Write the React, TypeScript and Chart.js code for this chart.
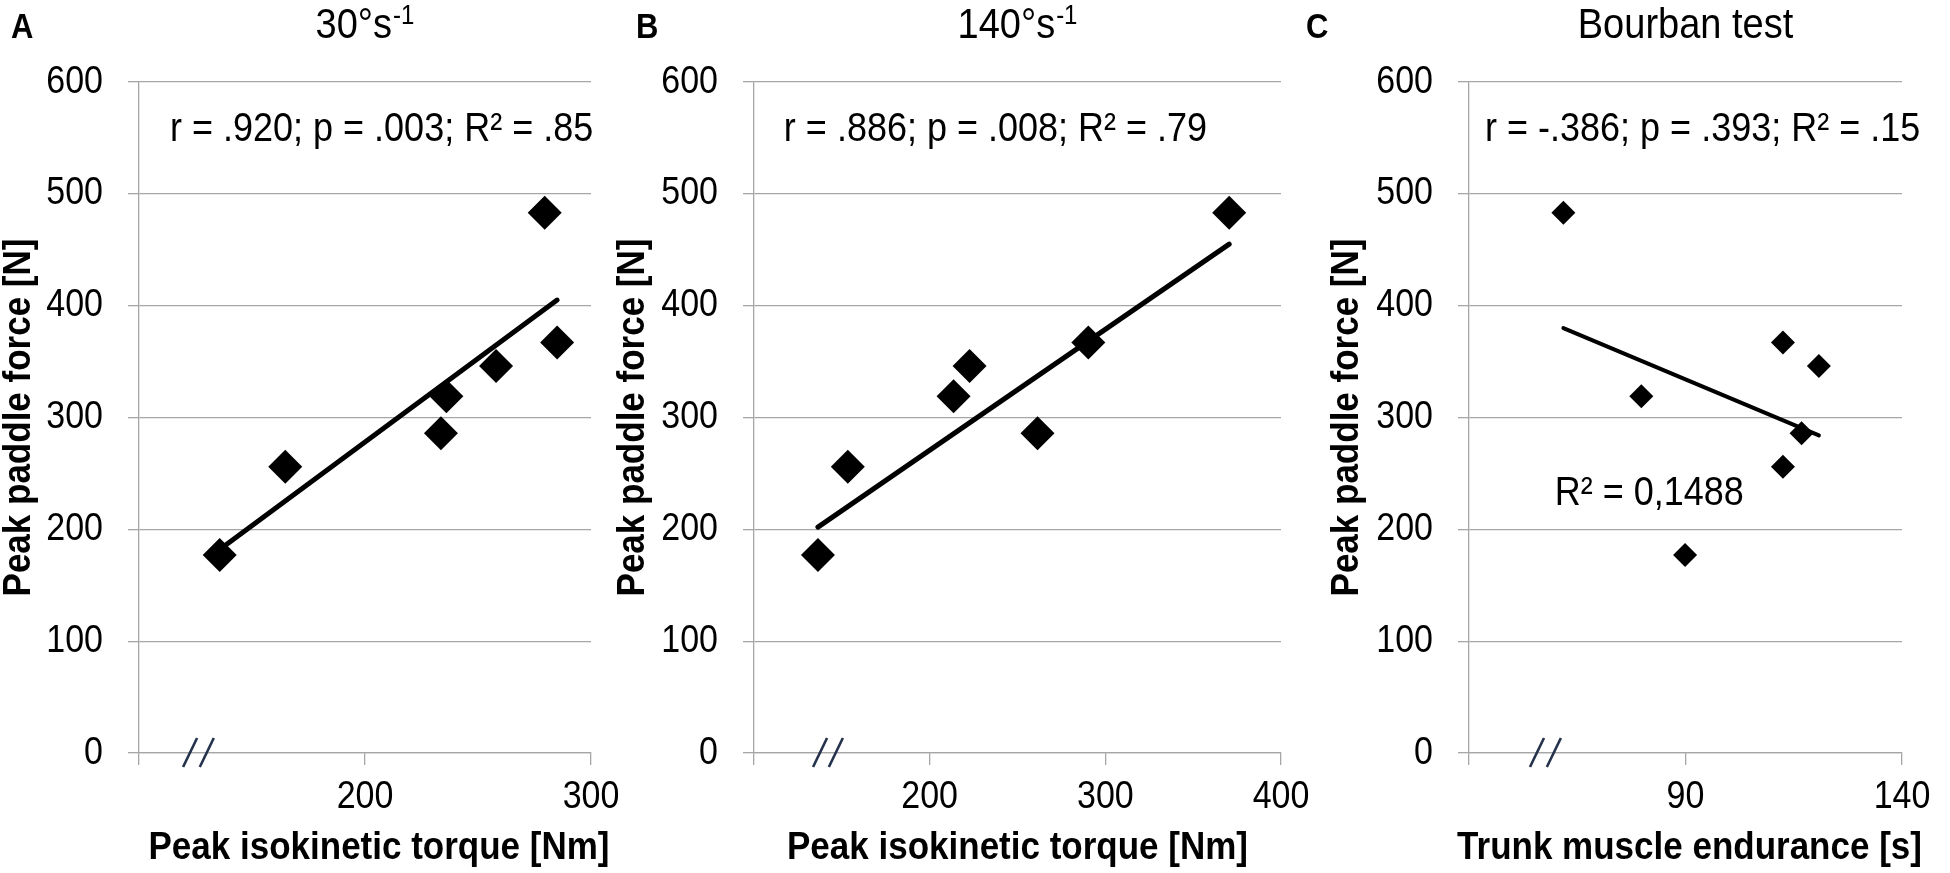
import { useEffect, useRef } from 'react';
import Chart, { ChartConfiguration, Plugin } from 'chart.js/auto';

const FONT = '"Liberation Sans", Arial, Helvetica, sans-serif';
const GRID = '#a6a6a6';
const H = 873;
const STRETCH = 1.12; // the figure's lettering is a little taller than plain Arial

// same seven athletes in every panel
const peakForce = [483, 367, 346, 319, 286, 256, 177];
const torque30 = [279.5, 285, 258, 236, 233.6, 164.7, 135.7];
const torque140 = [370.5, 290.3, 222.7, 213.6, 261.4, 153.4, 136.4];
const endurance = [61.8, 112.5, 120.8, 79.8, 116.8, 112.5, 89.9];

// linear trendlines, read as end points
const trend30 = [[135.7, 182], [285, 405]];
const trend140 = [[136.4, 202], [370.5, 455]];
const trendBourban = [[61.8, 380], [120.8, 284]];

const yTicks = [0, 100, 200, 300, 400, 500, 600];
const yLabels = ['0', '100', '200', '300', '400', '500', '600'];
const xTicks30 = [100, 200, 300];
const xLabels30 = ['', '200', '300'];
const xTicks140 = [100, 200, 300, 400];
const xLabels140 = ['', '200', '300', '400'];
const xTicksBourban = [40, 90, 140];
const xLabelsBourban = ['', '90', '140'];

const yTitle = 'Peak paddle force [N]';

type Panel = {
  letter: string;
  title: string;
  titleSup: string;
  xTitle: string;
  stats: string;
  extra?: string;
  xs: number[];
  trend: number[][];
  xTicks: number[];
  xLabels: string[];
  // layout
  left: number;
  width: number;
  yw: number;
  padRight: number;
  letterX: number;
  yTitleX: number;
  xTitleDx: number;
  statsAt: number[];
  extraAt?: number[];
  breaks: number[];
  radius: number;
  lineWidth: number;
};

const panels: Panel[] = [
  {
    letter: 'A', title: '30°s', titleSup: '-1', xTitle: 'Peak isokinetic torque [Nm]',
    stats: 'r = .920; p = .003; R² = .85',
    xs: torque30, trend: trend30, xTicks: xTicks30, xLabels: xLabels30,
    left: 0, width: 650, yw: 139, padRight: 59, letterX: 11, yTitleX: 19, xTitleDx: 14,
    statsAt: [113.7, 557], breaks: [122.6, 130], radius: 17, lineWidth: 5,
  },
  {
    letter: 'B', title: '140°s', titleSup: '-1', xTitle: 'Peak isokinetic torque [Nm]',
    stats: 'r = .886; p = .008; R² = .79',
    xs: torque140, trend: trend140, xTicks: xTicks140, xLabels: xLabels140,
    left: 610, width: 704, yw: 144, padRight: 33, letterX: 26, yTitleX: 23, xTitleDx: 0,
    statsAt: [117, 557], breaks: [137.6, 146.6], radius: 17, lineWidth: 5,
  },
  {
    letter: 'C', title: 'Bourban test', titleSup: '', xTitle: 'Trunk muscle endurance [s]',
    stats: 'r = -.386; p = .393; R² = .15', extra: 'R² = 0,1488',
    xs: endurance, trend: trendBourban, xTicks: xTicksBourban, xLabels: xLabelsBourban,
    left: 1300, width: 650, yw: 169, padRight: 48, letterX: 6, yTitleX: 47, xTitleDx: 4,
    statsAt: [43.7, 557], extraAt: [59.8, 231.5], breaks: [55.7, 59.6], radius: 12, lineWidth: 4,
  },
];

const text = (
  ctx: CanvasRenderingContext2D,
  s: string,
  x: number,
  y: number,
  font: string,
  align: CanvasTextAlign,
  baseline: CanvasTextBaseline,
  rotate = 0,
) => {
  ctx.save();
  ctx.translate(x, y);
  if (rotate) ctx.rotate(rotate);
  ctx.scale(1, STRETCH);
  ctx.font = font;
  ctx.textAlign = align;
  ctx.textBaseline = baseline;
  ctx.fillText(s, 0, 0);
  ctx.restore();
};

const makeTextPlugin = (p: Panel): Plugin<'scatter'> => ({
  id: 'panelText',
  afterDraw(chart) {
    const { ctx, chartArea: a, scales } = chart;
    const sx = scales.x;
    const sy = scales.y;
    ctx.save();
    ctx.fillStyle = '#000';

    // break marks on the x axis
    ctx.strokeStyle = '#25324c';
    ctx.lineWidth = 2.6;
    const y0 = sy.getPixelForValue(0);
    p.breaks.forEach((v) => {
      const bx = sx.getPixelForValue(v);
      ctx.beginPath();
      ctx.moveTo(bx - 7, y0 + 14);
      ctx.lineTo(bx + 7, y0 - 15);
      ctx.stroke();
    });

    // tick labels
    const tickFont = `34px ${FONT}`;
    yTicks.forEach((v, i) => {
      text(ctx, yLabels[i], a.left - 36, sy.getPixelForValue(v), tickFont, 'right', 'middle');
    });
    p.xTicks.forEach((v, i) => {
      if (p.xLabels[i]) text(ctx, p.xLabels[i], sx.getPixelForValue(v), y0 + 25, tickFont, 'center', 'top');
    });

    // panel letter
    text(ctx, p.letter, p.letterX, 38, `bold 31px ${FONT}`, 'left', 'alphabetic');

    // panel title with optional superscript
    const cx = (a.left + a.right) / 2;
    ctx.font = `38px ${FONT}`;
    const w1 = ctx.measureText(p.title).width;
    ctx.font = `24px ${FONT}`;
    const w2 = p.titleSup ? ctx.measureText(p.titleSup).width + 1 : 0;
    const start = cx - (w1 + w2) / 2;
    text(ctx, p.title, start, 38, `38px ${FONT}`, 'left', 'alphabetic');
    if (p.titleSup) text(ctx, p.titleSup, start + w1 + 1, 24, `24px ${FONT}`, 'left', 'alphabetic');

    // axis titles
    text(ctx, p.xTitle, cx + p.xTitleDx, 859, `bold 35px ${FONT}`, 'center', 'alphabetic');
    text(ctx, yTitle, p.yTitleX, (a.top + a.bottom) / 2, `bold 35px ${FONT}`, 'center', 'middle', -Math.PI / 2);

    // statistics
    const statFont = `36px ${FONT}`;
    text(ctx, p.stats, sx.getPixelForValue(p.statsAt[0]), sy.getPixelForValue(p.statsAt[1]), statFont, 'left', 'middle');
    if (p.extra && p.extraAt) {
      text(ctx, p.extra, sx.getPixelForValue(p.extraAt[0]), sy.getPixelForValue(p.extraAt[1]), statFont, 'left', 'middle');
    }
    ctx.restore();
  },
});

const ScatterPanel = ({ panel }: { panel: Panel }) => {
  const chartRef = useRef<HTMLCanvasElement | null>(null);
  const chartInstance = useRef<Chart | null>(null);

  useEffect(() => {
    if (chartInstance.current) {
      chartInstance.current.destroy();
    }
    if (!chartRef.current) return;
    const ctx = chartRef.current.getContext('2d');
    if (!ctx) return;

    const config: ChartConfiguration<'scatter'> = {
      type: 'scatter',
      data: {
        datasets: [
          {
            data: panel.xs.map((x, i) => ({ x, y: peakForce[i] })),
            pointStyle: 'rectRot',
            pointRadius: panel.radius,
            pointHoverRadius: panel.radius,
            backgroundColor: '#000',
            borderWidth: 0,
          },
          {
            data: panel.trend.map(([x, y]) => ({ x, y })),
            showLine: true,
            pointRadius: 0,
            borderColor: '#000',
            borderWidth: panel.lineWidth,
            borderCapStyle: 'round',
          },
        ],
      },
      options: {
        animation: false,
        responsive: false,
        layout: { padding: { left: 0, right: panel.padRight, top: 82, bottom: 0 } },
        scales: {
          x: {
            type: 'linear',
            min: panel.xTicks[0],
            max: panel.xTicks[panel.xTicks.length - 1],
            afterBuildTicks: (s) => {
              s.ticks = panel.xTicks.map((value) => ({ value }));
            },
            afterFit: (s) => {
              s.height = 120;
            },
            grid: { drawOnChartArea: false, drawTicks: true, tickLength: 12, color: GRID, lineWidth: 1.3 },
            border: { color: GRID, width: 1.3 },
            ticks: { display: false },
          },
          y: {
            min: yTicks[0],
            max: yTicks[yTicks.length - 1],
            afterBuildTicks: (s) => {
              s.ticks = yTicks.map((value) => ({ value }));
            },
            afterFit: (s) => {
              s.width = panel.yw;
            },
            grid: { color: GRID, lineWidth: 1.3, tickLength: 11 },
            border: { color: GRID, width: 1.3 },
            ticks: { display: false },
          },
        },
        plugins: {
          legend: { display: false },
          tooltip: { enabled: false },
        },
      },
      plugins: [makeTextPlugin(panel)],
    };

    chartInstance.current = new Chart(ctx, config);

    return () => {
      if (chartInstance.current) {
        chartInstance.current.destroy();
        chartInstance.current = null;
      }
    };
  }, [panel]);

  return (
    <div style={{ position: 'absolute', left: panel.left, top: 0, width: panel.width, height: H }}>
      <canvas
        ref={chartRef}
        width={panel.width}
        height={H}
        style={{ display: 'block', width: panel.width, height: H }}
      />
    </div>
  );
};

const App = () => (
  <div style={{ position: 'absolute', left: 0, top: 0, width: 1950, height: H, background: '#fff' }}>
    {panels.map((p) => (
      <ScatterPanel key={p.letter} panel={p} />
    ))}
  </div>
);

export default App;
